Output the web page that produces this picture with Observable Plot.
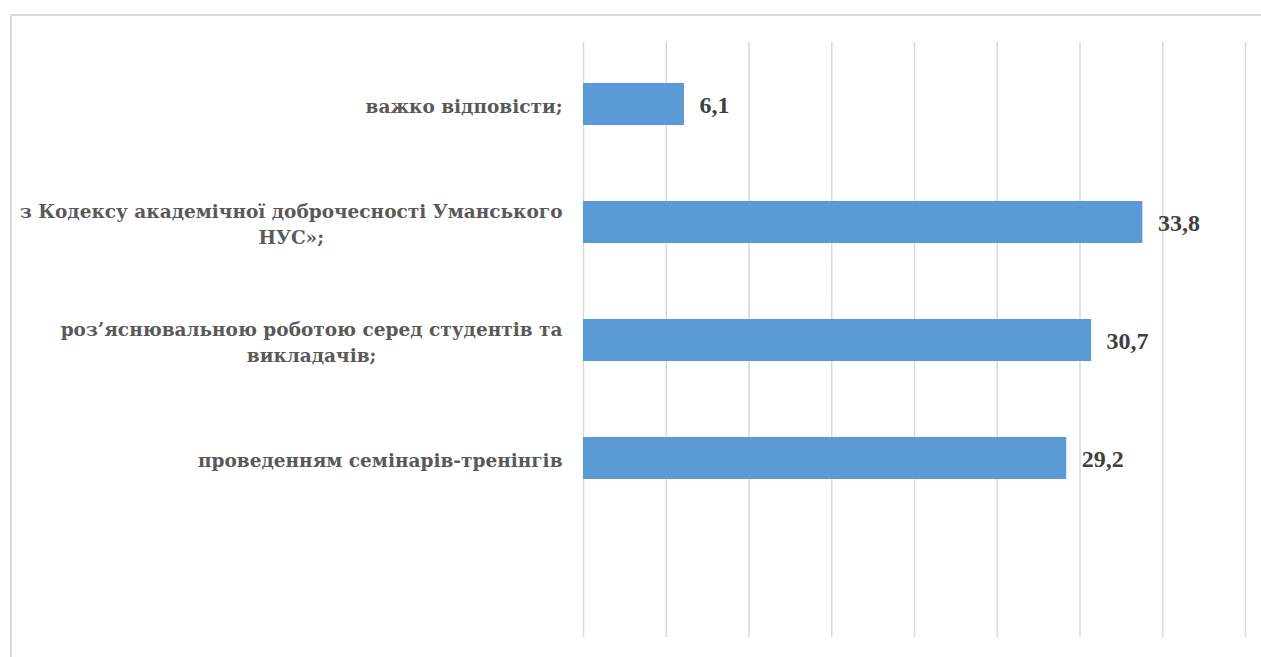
<!DOCTYPE html>
<html>
<head>
<meta charset="utf-8">
<script src="https://cdn.jsdelivr.net/npm/d3@7"></script>
<script src="https://cdn.jsdelivr.net/npm/@observablehq/plot@0.6"></script>
<style>
  html, body { margin: 0; padding: 0; background: #fff; overflow: hidden; width: 1261px; height: 657px; }
  #frame { position: absolute; left: 10px; top: 14px; width: 1300px; height: 700px;
           border-left: 2px solid #d9d9d9; border-top: 2px solid #d9d9d9; box-sizing: border-box; }
  #chart { position: absolute; left: 0; top: 0; }
</style>
</head>
<body>
<div id="frame"></div>
<div id="chart"></div>
<script>
const categories = [
  "важко відповісти;",
  "з Кодексу академічної доброчесності Уманського\nНУС»;",
  "роз’яснювальною роботою серед студентів та\nвикладачів;",
  "проведенням семінарів-тренінгів",
  " "
];
const values = [6.1, 33.8, 30.7, 29.2];
const gridTicks = [0, 5, 10, 15, 20, 25, 30, 35, 40];

const data = values.map((v, i) => ({category: categories[i], value: v}));
const fmt = v => v.toFixed(1).replace(".", ",");
const serif = "'Liberation Serif', 'Times New Roman', serif";
const cyrSerif = "'DejaVu Serif', serif";

const chart = Plot.plot({
  width: 1261,
  height: 657,
  marginLeft: 583,
  marginRight: 16,
  marginTop: 42,
  marginBottom: 20,
  style: {fontFamily: serif, background: "transparent"},
  x: {domain: [0, 40], axis: null},
  y: {domain: categories, range: [44, 635], paddingInner: 0.645, paddingOuter: 0.3225, axis: null},
  marks: [
    Plot.ruleX(gridTicks, {stroke: "#d9d9d9", strokeWidth: 1.5}),
    Plot.barX(data, {x: "value", y: "category", fill: "#5b9bd5"}),
    Plot.text(data, {x: "value", y: "category", text: d => fmt(d.value), textAnchor: "start", dx: 15, dy: 1,
      fill: "#404040", fontSize: 24, fontWeight: "bold", fontFamily: serif}),
    Plot.axisY({tickSize: 0, tickPadding: 21, fill: "#595959", fontSize: 18.5, fontWeight: "bold",
      fontFamily: cyrSerif, lineHeight: 1.45, dy: 0, label: null})
  ]
});
document.getElementById("chart").appendChild(chart);

// center wrapped lines of each label within its right-aligned block
chart.querySelectorAll("text").forEach(t => {
  const spans = t.querySelectorAll("tspan");
  if (spans.length < 2) return;
  let w = 0;
  spans.forEach(s => { w = Math.max(w, s.getComputedTextLength()); });
  t.setAttribute("text-anchor", "middle");
  spans.forEach(s => s.setAttribute("x", -w / 2));
});
</script>
</body>
</html>
